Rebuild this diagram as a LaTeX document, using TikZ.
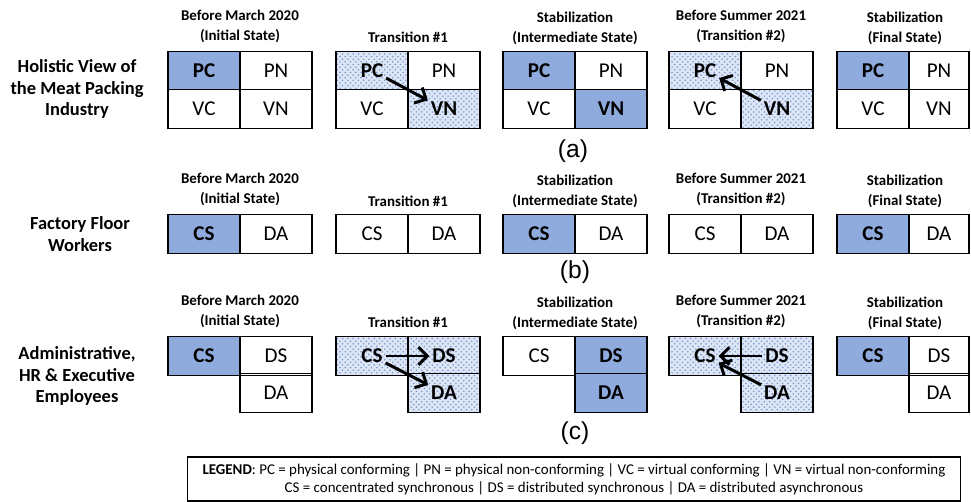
\documentclass[tikz,border=0pt]{standalone}
\usepackage{fontspec}
\setmainfont{Carlito}
\newfontfamily\arialfont{Liberation Sans}
\usetikzlibrary{patterns,arrows.meta}
\definecolor{cellblue}{RGB}{143,170,220}
\definecolor{dotblue}{RGB}{120,150,210}

\tikzset{
  cell/.style={draw, line width=0.7pt, minimum width=1.44cm, minimum height=0.77cm, inner sep=0pt, font=\fontsize{12}{14}\selectfont},
  full/.style={fill=cellblue, font=\fontsize{12}{14}\selectfont\bfseries},
  dotty/.style={preaction={fill=cellblue!30}, pattern=crosshatch dots, pattern color=dotblue},
  narrow/.style={minimum width=1.2cm},
  txt/.style={inner sep=1.5pt, font=\fontsize{12}{14}\selectfont\bfseries},
  title/.style={align=center, font=\fontsize{8.5}{11.4}\selectfont\bfseries},
  rowlabel/.style={align=center, font=\fontsize{10.5}{12.4}\selectfont\bfseries},
  sub/.style={font=\arialfont\fontsize{14}{16}\selectfont},
  move/.style={-{Straight Barb[length=5pt,width=10pt]}, line width=1.7pt}
}

\begin{document}
\begin{tikzpicture}[x=0.02cm, y=-0.02cm]
  \useasboundingbox (0,0) rectangle (971,502);

  % (a) holistic view
  \node[rowlabel] (holistic) at (77,89) {Holistic View of\\the Meat Packing\\Industry};

  \node[title] (ta1) at (240,26) {Before March 2020\\(Initial State)};
  \node[cell,full] (a1pc) at (204,70.5) {PC};
  \node[cell] (a1pn) at (276,70.5) {PN};
  \node[cell] (a1vc) at (204,109) {VC};
  \node[cell] (a1vn) at (276,109) {VN};

  \node[title] (ta2) at (408,37) {Transition \#1};
  \node[cell,dotty] (a2pc) at (372,70.5) {};
  \node[cell] (a2pn) at (444,70.5) {PN};
  \node[cell] (a2vc) at (372,109) {VC};
  \node[cell,dotty] (a2vn) at (444,109) {};
  \node[txt] (pc2) at (a2pc) {PC};
  \node[txt] (vn2) at (a2vn) {VN};
  \draw[move] (pc2) -- (vn2);

  \node[title] (ta3) at (575,28) {Stabilization\\(Intermediate State)};
  \node[cell,full] (a3pc) at (539,70.5) {PC};
  \node[cell] (a3pn) at (611,70.5) {PN};
  \node[cell] (a3vc) at (539,109) {VC};
  \node[cell,full] (a3vn) at (611,109) {VN};

  \node[title] (ta4) at (741,26) {Before Summer 2021\\(Transition \#2)};
  \node[cell,dotty] (a4pc) at (705,70.5) {};
  \node[cell] (a4pn) at (777,70.5) {PN};
  \node[cell] (a4vc) at (705,109) {VC};
  \node[cell,dotty] (a4vn) at (777,109) {};
  \node[txt] (pc4) at (a4pc) {PC};
  \node[txt] (vn4) at (a4vn) {VN};
  \draw[move] (vn4) -- (pc4);

  \node[title] (ta5) at (905,28) {Stabilization\\(Final State)};
  \node[cell,full] (a5pc) at (873,70.5) {PC};
  \node[cell,narrow] (a5pn) at (939,70.5) {PN};
  \node[cell] (a5vc) at (873,109) {VC};
  \node[cell,narrow] (a5vn) at (939,109) {VN};

  \node[sub] (la) at (573,151) {(a)};

  % (b) factory floor
  \node[rowlabel] (factory) at (80,234) {Factory Floor\\Workers};

  \node[title] (tb1) at (240,189) {Before March 2020\\(Initial State)};
  \node[cell,full] (b1cs) at (204,234) {CS};
  \node[cell] (b1da) at (276,234) {DA};

  \node[title] (tb2) at (408,201) {Transition \#1};
  \node[cell] (b2cs) at (372,234) {CS};
  \node[cell] (b2da) at (444,234) {DA};

  \node[title] (tb3) at (575,191) {Stabilization\\(Intermediate State)};
  \node[cell,full] (b3cs) at (539,234) {CS};
  \node[cell] (b3da) at (611,234) {DA};

  \node[title] (tb4) at (741,189) {Before Summer 2021\\(Transition \#2)};
  \node[cell] (b4cs) at (705,234) {CS};
  \node[cell] (b4da) at (777,234) {DA};

  \node[title] (tb5) at (905,191) {Stabilization\\(Final State)};
  \node[cell,full] (b5cs) at (873,234) {CS};
  \node[cell,narrow] (b5da) at (939,234) {DA};

  \node[sub] (lb) at (575,272) {(b)};

  % (c) administrative staff
  \node[rowlabel] (admin) at (77,376) {Administrative,\\HR \& Executive\\Employees};

  \node[title] (tc1) at (240,311) {Before March 2020\\(Initial State)};
  \node[cell,full] (c1cs) at (204,356) {CS};
  \node[cell] (c1ds) at (276,356) {DS};
  \node[cell] (c1da) at (276,393) {DA};

  \node[title] (tc2) at (408,322) {Transition \#1};
  \node[cell,dotty] (c2cs) at (372,356) {};
  \node[cell,dotty] (c2ds) at (444,356) {};
  \node[cell,dotty] (c2da) at (444,393) {};
  \node[txt] (cs2) at (c2cs) {CS};
  \node[txt] (ds2) at (c2ds) {DS};
  \node[txt] (da2) at (c2da) {DA};
  \draw[move] (cs2) -- (ds2);
  \draw[move] (cs2) -- (da2);

  \node[title] (tc3) at (575,313) {Stabilization\\(Intermediate State)};
  \node[cell] (c3cs) at (539,356) {CS};
  \node[cell,full] (c3ds) at (611,356) {DS};
  \node[cell,full] (c3da) at (611,393) {DA};

  \node[title] (tc4) at (741,311) {Before Summer 2021\\(Transition \#2)};
  \node[cell,dotty] (c4cs) at (705,356) {};
  \node[cell,dotty] (c4ds) at (777,356) {};
  \node[cell,dotty] (c4da) at (777,393) {};
  \node[txt] (cs4) at (c4cs) {CS};
  \node[txt] (ds4) at (c4ds) {DS};
  \node[txt] (da4) at (c4da) {DA};
  \draw[move] (ds4) -- (cs4);
  \draw[move] (da4) -- (cs4);

  \node[title] (tc5) at (905,313) {Stabilization\\(Final State)};
  \node[cell,full] (c5cs) at (873,356) {CS};
  \node[cell,narrow] (c5ds) at (939,356) {DS};
  \node[cell,narrow] (c5da) at (939,393) {DA};

  \node[sub] (lc) at (575,433) {(c)};

  % legend
  \node[draw, line width=0.6pt, minimum width=15.48cm, minimum height=0.88cm, align=center, font=\fontsize{8.5}{10.3}\selectfont] (legend) at (574,479)
    {\textbf{LEGEND}: PC = physical conforming | PN = physical non-conforming | VC = virtual conforming | VN = virtual non-conforming\\
     CS = concentrated synchronous | DS = distributed synchronous | DA = distributed asynchronous};
\end{tikzpicture}
\end{document}
